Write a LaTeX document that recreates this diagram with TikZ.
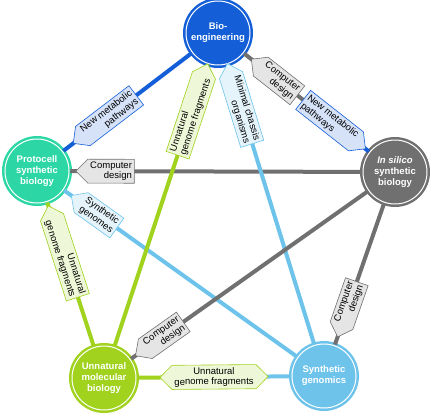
\documentclass[tikz,border=0pt]{standalone}
\usepackage{fontspec}
\setmainfont{Liberation Sans}
\usetikzlibrary{positioning}
\usetikzlibrary{shapes.symbols}
\usetikzlibrary{calc}

\definecolor{bioblue}{RGB}{20,95,215}
\definecolor{protogreen}{RGB}{45,215,165}
\definecolor{silicogray}{RGB}{112,112,112}
\definecolor{molgreen}{RGB}{160,210,30}
\definecolor{genblue}{RGB}{110,195,235}

\begin{document}
\begin{tikzpicture}
		[x=1pt, y=-1pt,
		field/.style={circle, minimum size=64pt, inner sep=0pt, draw=#1, fill=#1, double=white, line width=2.5pt, double distance=1pt, text=white, font=\bfseries\fontsize{9.5}{11}\selectfont, align=center},
		link/.style={line width=4pt, draw=#1},
		tag/.style={signal, sloped, draw=#1, fill=#1!18, line width=0.6pt, text=black, inner sep=2.4pt, font=\fontsize{9.5}{10.5}\selectfont}]
		\useasboundingbox (0,0) rectangle (433,413);
		\node[field=bioblue] (bio) at (218,33) {Bio-\\engineering};
		\node[field=protogreen] (proto) at (37,171) {Protocell\\synthetic\\biology};
		\node[field=silicogray] (silico) at (395,172) {\textit{In silico}\\synthetic\\biology};
		\node[field=molgreen] (mol) at (104,378) {Unnatural\\molecular\\biology};
		\node[field=genblue] (gen) at (324,376) {Synthetic\\genomics};
		\coordinate (m1) at ($(bio)!0.5!(silico)$);
		\coordinate (m2) at ($(mol)!0.5!(gen)$);
		\draw[link=bioblue] (bio) -- node[pos=0.64, tag=bioblue, signal to=west, align=right] {New metabolic\\pathways} (proto);
		\draw[link=silicogray] (bio) -- node[pos=0.56, tag=silicogray, signal to=west, align=right] {Computer\\design} (m1);
		\draw[link=bioblue] (m1) -- node[pos=0.37, tag=bioblue, signal to=east, align=left] {New metabolic\\pathways} (silico);
		\draw[link=silicogray] (proto) -- node[pos=0.14, tag=silicogray, signal to=west, align=right] {Computer\\design} (silico);
		\draw[link=genblue] (proto) -- node[pos=0.15, tag=genblue, signal to=west, align=right] {Synthetic\\genomes} (gen);
		\draw[link=molgreen] (proto) -- node[pos=0.38, tag=molgreen, signal to=west, align=right] {Unnatural\\genome fragments} (mol);
		\draw[link=molgreen] (bio) -- node[pos=0.18, tag=molgreen, signal to=east, align=left] {Unnatural\\genome fragments} (mol);
		\draw[link=genblue] (bio) -- node[pos=0.16, tag=genblue, signal to=west, align=right] {Minimal chassis\\organisms} (gen);
		\draw[link=silicogray] (silico) -- node[pos=0.86, tag=silicogray, signal to=west, align=right] {Computer\\design} (mol);
		\draw[link=silicogray] (silico) -- node[pos=0.71, tag=silicogray, signal to=west, align=right] {Computer\\design} (gen);
		\draw[link=molgreen] (mol) -- (m2);
		\draw[link=genblue] (m2) -- node[pos=0, tag=molgreen, signal to=east and west, align=center] {Unnatural\\genome fragments} (gen);
	\end{tikzpicture}
\end{document}
